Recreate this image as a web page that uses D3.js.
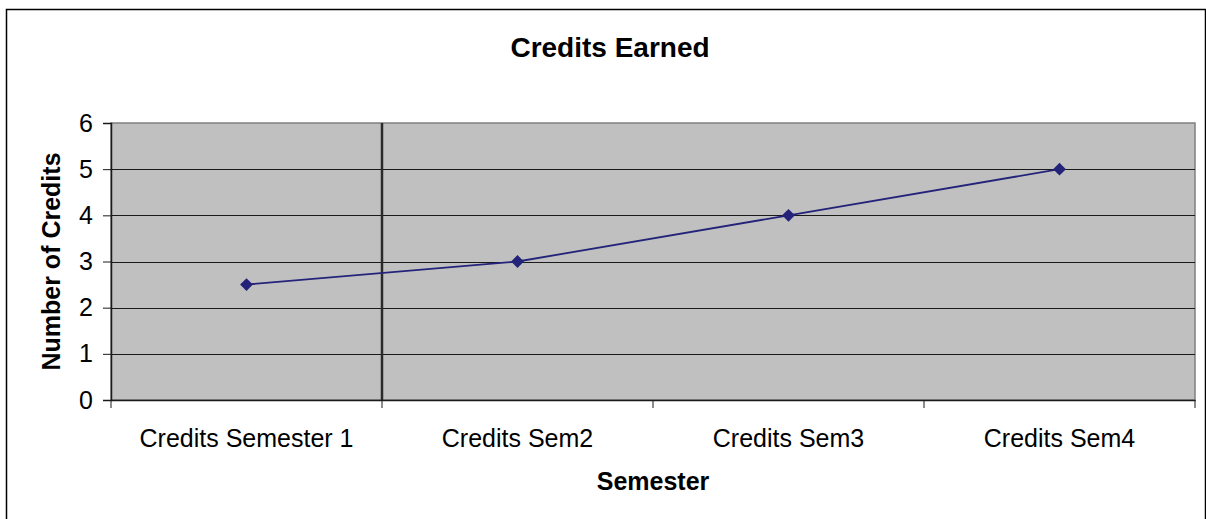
<!DOCTYPE html>
<html>
<head>
<meta charset="utf-8">
<script src="https://d3js.org/d3.v7.min.js"></script>
<style>
body { margin: 0; background: white; }
text { font-family: "Liberation Sans", Arial, sans-serif; fill: black; }
</style>
</head>
<body>
<svg width="1206" height="519"></svg>
<script>
// data
var categories = ["Credits Semester 1", "Credits Sem2", "Credits Sem3", "Credits Sem4"];
var credits = [2.5, 3, 4, 5];
var yTicks = [0, 1, 2, 3, 4, 5, 6];
var chartTitle = "Credits Earned";
var xTitle = "Semester";
var yTitle = "Number of Credits";

var svg = d3.select("svg");
var plotLeft = 111, plotRight = 1195, plotTop = 123, plotBottom = 400;

// outer frame
svg.append("rect")
    .attr("x", 6.5).attr("y", 9.5)
    .attr("width", 1199).attr("height", 530)
    .attr("fill", "none").attr("stroke", "black").attr("stroke-width", 1.5);

var x = d3.scaleBand().domain(categories).range([plotLeft, plotRight]).padding(0);
var y = d3.scaleLinear().domain([0, 6]).range([plotBottom, plotTop]);

// plot area
svg.append("rect")
    .attr("x", plotLeft).attr("y", plotTop)
    .attr("width", plotRight - plotLeft).attr("height", plotBottom - plotTop)
    .attr("fill", "#c0c0c0")
    .attr("stroke", "#808080").attr("stroke-width", 1.5);

// gridlines
svg.append("g").selectAll("line")
    .data(yTicks.filter(function(d) { return d > 0 && d < 6; }))
    .enter().append("line")
    .attr("x1", plotLeft).attr("x2", plotRight)
    .attr("y1", function(d) { return Math.round(y(d)) + 0.5; })
    .attr("y2", function(d) { return Math.round(y(d)) + 0.5; })
    .attr("stroke", "#1a1a1a").attr("stroke-width", 1);

// the dark vertical line after the first category
svg.append("line")
    .attr("x1", x(categories[1])).attr("x2", x(categories[1]))
    .attr("y1", plotTop).attr("y2", plotBottom)
    .attr("stroke", "#2a2a2a").attr("stroke-width", 2.5);

// y axis
var yAxis = svg.append("g")
    .attr("transform", "translate(" + plotLeft + ",0)")
    .call(d3.axisLeft(y).tickValues(yTicks).tickFormat(d3.format("d")).tickSize(8).tickPadding(10));
yAxis.select(".domain").attr("stroke", "#1a1a1a").attr("stroke-width", 1.5);
yAxis.selectAll(".tick line").attr("stroke", "#1a1a1a");
yAxis.selectAll("text").style("font-size", "25px").attr("fill", "black");

// x axis, ticks sit on band edges
var xAxis = svg.append("g")
    .attr("transform", "translate(0," + plotBottom + ")")
    .call(d3.axisBottom(x).tickSize(0).tickPadding(29));
xAxis.select(".domain").attr("stroke", "#1a1a1a").attr("stroke-width", 1.5);
xAxis.selectAll("text").style("font-size", "25px").attr("fill", "black");
xAxis.selectAll(".edge")
    .data(categories.concat(["end"]))
    .enter().append("line")
    .attr("class", "edge")
    .attr("x1", function(d, i) { return i < categories.length ? x(d) : plotRight; })
    .attr("x2", function(d, i) { return i < categories.length ? x(d) : plotRight; })
    .attr("y1", 0).attr("y2", 8)
    .attr("stroke", "#1a1a1a");

// series
var line = d3.line()
    .x(function(d, i) { return x(categories[i]) + x.bandwidth() / 2; })
    .y(function(d) { return y(d); });

svg.append("path")
    .datum(credits)
    .attr("d", line)
    .attr("fill", "none")
    .attr("stroke", "#23237a").attr("stroke-width", 1.8);

svg.selectAll(".marker")
    .data(credits)
    .enter().append("path")
    .attr("class", "marker")
    .attr("d", d3.symbol().type(d3.symbolSquare).size(82))
    .attr("transform", function(d, i) {
        return "translate(" + (x(categories[i]) + x.bandwidth() / 2) + "," + y(d) + ") rotate(45)";
    })
    .attr("fill", "#23237a");

// titles
svg.append("text")
    .attr("x", 610).attr("y", 57)
    .attr("text-anchor", "middle")
    .style("font-size", "28px").style("font-weight", "bold")
    .text(chartTitle);

svg.append("text")
    .attr("x", 653).attr("y", 490)
    .attr("text-anchor", "middle")
    .style("font-size", "25px").style("font-weight", "bold")
    .text(xTitle);

svg.append("text")
    .attr("transform", "translate(60," + ((plotTop + plotBottom) / 2) + ") rotate(-90)")
    .attr("text-anchor", "middle")
    .style("font-size", "25px").style("font-weight", "bold")
    .text(yTitle);
</script>
</body>
</html>
